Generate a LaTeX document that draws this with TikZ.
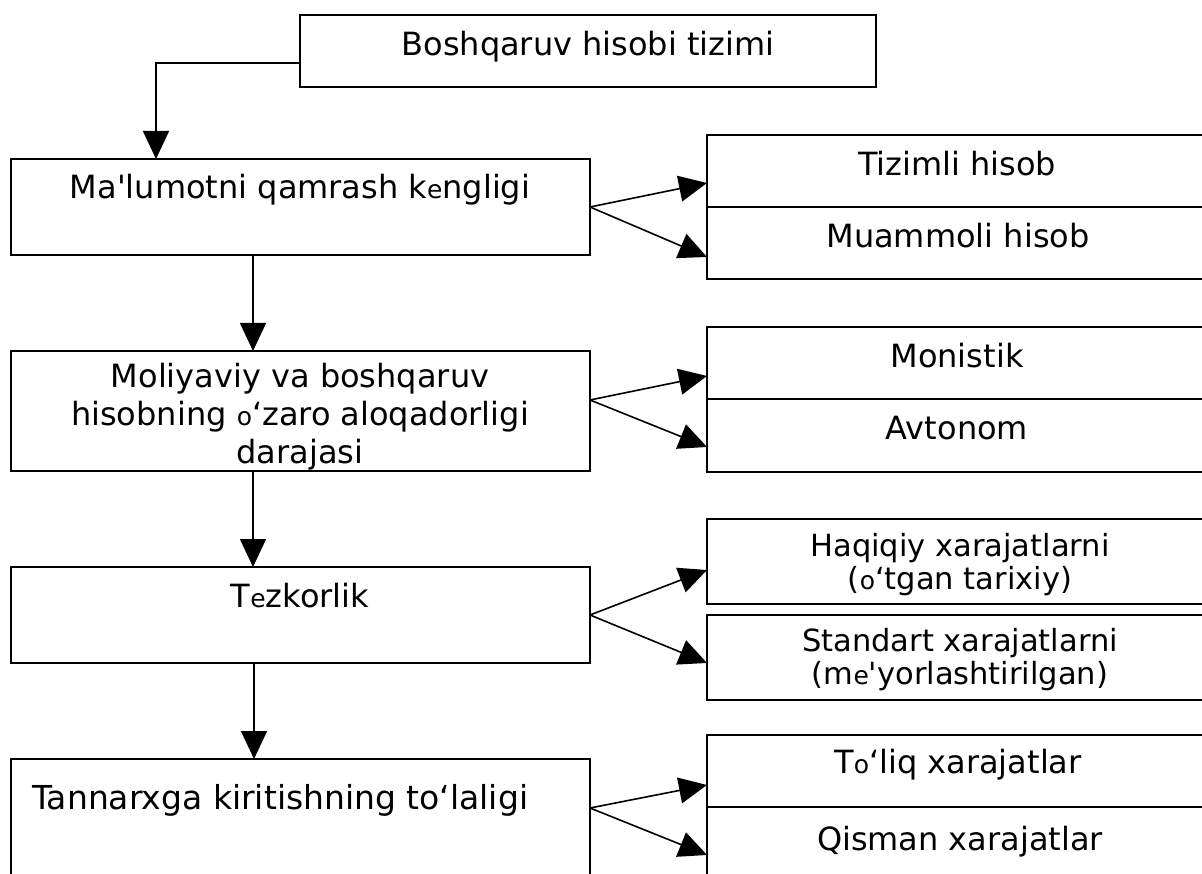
\documentclass[tikz,border=0pt]{standalone}
\usepackage{fontspec}
\newfontfamily\djv{DejaVu Sans}
\usetikzlibrary{arrows.meta}
\newcommand\smlt[1]{{\fontsize{25}{25}\selectfont #1}}
\begin{document}
\begin{tikzpicture}[x=1pt,y=-1pt,
  box/.style={draw=black,line width=1.6pt,inner sep=0pt,outer sep=0pt},
  txt/.style={font=\djv\fontsize{32}{38}\selectfont,inner sep=0pt,align=center},
  txts/.style={font=\djv\fontsize{30.5}{33}\selectfont,inner sep=0pt,align=center},
  arr/.style={line width=1.6pt,-{Triangle[length=28pt,width=26pt]}}]
\useasboundingbox (0,0) rectangle (1202,874);
\clip (0,0) rectangle (1202,874);
\fill[white] (0,0) rectangle (1202,874);
% left column
\node[box,minimum width=576pt,minimum height=72pt] (top) at (588,51) {};
\node[box,minimum width=579pt,minimum height=96pt] (b1) at (300.5,207) {};
\node[box,minimum width=579pt,minimum height=120pt] (b2) at (300.5,411) {};
\node[box,minimum width=579pt,minimum height=96pt] (b3) at (300.5,615) {};
\node[box,minimum width=579pt,minimum height=131pt] (b4) at (300.5,824.5) {};
% right column
\node[box,minimum width=508pt,minimum height=72pt] (r1a) at (961,171) {};
\node[box,minimum width=508pt,minimum height=72pt] (r1b) at (961,243) {};
\node[box,minimum width=508pt,minimum height=72pt] (r2a) at (961,363) {};
\node[box,minimum width=508pt,minimum height=73pt] (r2b) at (961,435.5) {};
\node[box,minimum width=508pt,minimum height=85pt] (r3a) at (961,561.5) {};
\node[box,minimum width=508pt,minimum height=85pt] (r3b) at (961,657.5) {};
\node[box,minimum width=508pt,minimum height=72pt] (r4a) at (961,771) {};
\node[box,minimum width=508pt,minimum height=83pt] (r4b) at (961,848.5) {};
% texts
\node[txt] (ttop) at (588,47) {Boshqaruv hisobi tizimi};
\node[txt] (t1) at (300,190) {Ma'lumotni qamrash k\smlt{e}ngligi};
\node[txt] (t2) at (300,417) {Moliyaviy va boshqaruv\\hisobning \smlt{o}‘zaro aloqadorligi\\darajasi};
\node[txt] (t3) at (300,596) {T\smlt{e}zkorlik};
\node[txt,anchor=west,font=\djv\fontsize{33}{38}\selectfont] (t4) at (32,800) {Tannarxga kiritishning to‘laligi};
\node[txt] (tr1a) at (957,164) {Tizimli hisob};
\node[txt] (tr1b) at (958,236) {Muammoli hisob};
\node[txt] (tr2a) at (957,356) {Monistik};
\node[txt] (tr2b) at (957,428) {Avtonom};
\node[txts] (tr3a) at (960,565) {Haqiqiy xarajatlarni\\(\smlt{o}‘tgan tarixiy)};
\node[txts] (tr3b) at (960,660) {Standart xarajatlarni\\(m\smlt{e}'yorlashtirilgan)};
\node[txt] (tr4a) at (958,765) {T\smlt{o}‘liq xarajatlar};
\node[txt] (tr4b) at (960,842) {Qisman xarajatlar};
% connectors
\draw[arr] ([yshift=-12pt]top.west) -| ([xshift=145pt]b1.north west);
\draw[arr] ([xshift=242pt]b1.south west) -- ([xshift=242pt]b2.north west);
\draw[arr] ([xshift=242pt]b2.south west) -- ([xshift=242pt]b3.north west);
\draw[arr] ([xshift=243pt]b3.south west) -- ([xshift=243pt]b4.north west);
\draw[arr] (b1.east) -- ([yshift=-12pt]r1a.west);
\draw[arr] (b1.east) -- ([yshift=-14pt]r1b.west);
\draw[arr] ([yshift=11pt]b2.east) -- ([yshift=-13pt]r2a.west);
\draw[arr] ([yshift=11pt]b2.east) -- ([yshift=-11.5pt]r2b.west);
\draw[arr] (b3.east) -- ([yshift=-8.5pt]r3a.west);
\draw[arr] (b3.east) -- ([yshift=-5.5pt]r3b.west);
\draw[arr] ([yshift=16.5pt]b4.east) -- ([yshift=-14pt]r4a.west);
\draw[arr] ([yshift=16.5pt]b4.east) -- ([yshift=-6.5pt]r4b.west);
\end{tikzpicture}
\end{document}
